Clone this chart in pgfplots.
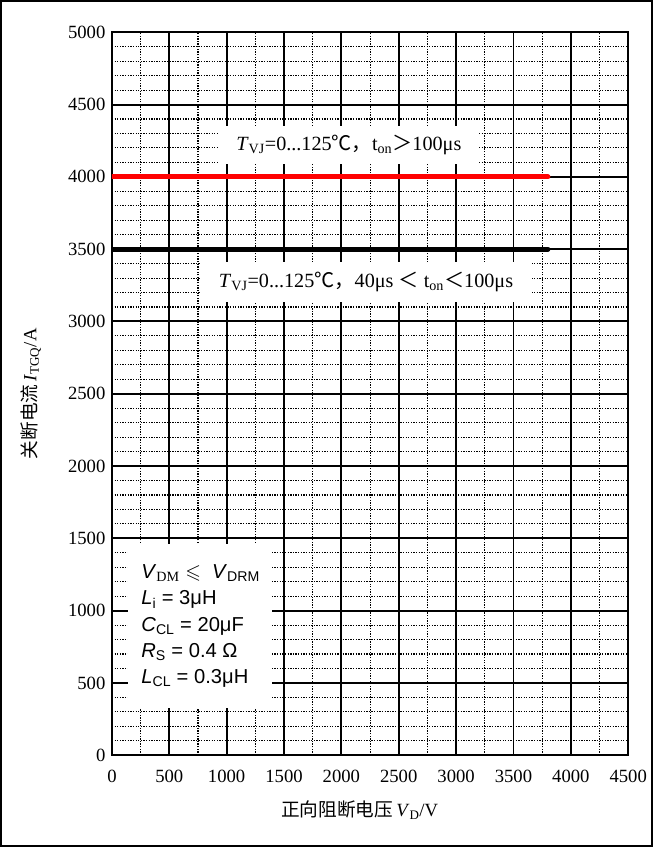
\documentclass[border=0pt]{standalone}
\usepackage{amssymb}
\usepackage{pgfplots}
\pgfplotsset{compat=1.18}
\usepackage{fontspec}
\setmainfont{Liberation Serif}
\newfontfamily\cjk{Noto Sans CJK SC}
\newfontfamily\arial{Liberation Sans}

\begin{document}
\begin{tikzpicture}
\begin{axis}[
    scale only axis,
    width=512pt, height=717pt,
    xmin=0, xmax=4500, ymin=0, ymax=5000,
    xtick={0,500,1000,1500,2000,2500,3000,3500,4000,4500},
    ytick={0,500,1000,1500,2000,2500,3000,3500,4000,4500,5000},
    minor xtick={250,750,1250,1750,2250,2750,3250,3750,4250},
    minor y tick num=4,
    major tick length=0pt, minor tick length=0pt,
    xmajorgrids, ymajorgrids, xminorgrids, yminorgrids,
    major grid style={black, line width=1.9pt, solid},
    minor grid style={black, line width=1.1pt, dash pattern=on 1.3pt off 1.3pt},
    axis line style={black, line width=2pt},
    tick label style={font=\fontsize{18.5}{20}\selectfont},
    /pgf/number format/assume math mode=true,
    /pgf/number format/set thousands separator={},
    xticklabel style={yshift=-11pt},
    yticklabel style={xshift=-3pt},
    xlabel={{\cjk 正向阻断电压}\,\textit{V}\textsubscript{D}/V},
    ylabel={{\cjk 关断电流}\,\textit{I}\textsubscript{TGQ}/A},
    label style={font=\fontsize{18.5}{20}\selectfont},
    xlabel style={at={(axis description cs:0.48,-0.076)}, anchor=center},
    ylabel style={at={(axis description cs:-0.157,0.5)}, anchor=center},
    clip=true,
]
\addplot[red, line width=5pt, line cap=round] coordinates {(0,4000) (3800,4000)};
\addplot[black, line width=5pt, line cap=round] coordinates {(0,3500) (3800,3500)};

\node[fill=white, minimum width=258pt, minimum height=38pt, inner sep=0pt,
      font=\fontsize{20}{22}\selectfont] at (axis cs:2065,4219)
  {\textit{T}\textsubscript{VJ}=0...125{\cjk ℃，}t\textsubscript{on}{\cjk ＞}100μs};
\node[fill=white, minimum width=330pt, minimum height=40pt, inner sep=0pt,
      font=\fontsize{20}{22}\selectfont] at (axis cs:2215,3271)
  {\textit{T}\textsubscript{VJ}=0...125{\cjk ℃，}40μs {\cjk ＜} t\textsubscript{on}{\cjk ＜}100μs};
\node[fill=white, minimum width=143pt, minimum height=162pt, inner sep=0pt] at (axis cs:769,893) {};
\node[anchor=west, align=left, inner sep=0pt, font=\arial\fontsize{20}{26}\selectfont] at (axis cs:255,893)
  {\textit{V}\textsubscript{\rmfamily DM}\ $\leqslant$\ \ \textit{V}\textsubscript{DRM}\\
   \textit{L}\textsubscript{i} = 3μH\\
   \textit{C}\textsubscript{CL} = 20μF\\
   \textit{R}\textsubscript{S} = 0.4 Ω\\
   \textit{L}\textsubscript{CL} = 0.3μH};
\end{axis}
\draw[black, line width=2pt]
  ([xshift=-110pt, yshift=-90pt]current axis.south west) rectangle
  ([xshift=24pt, yshift=31pt]current axis.north east);
\end{tikzpicture}
\end{document}
